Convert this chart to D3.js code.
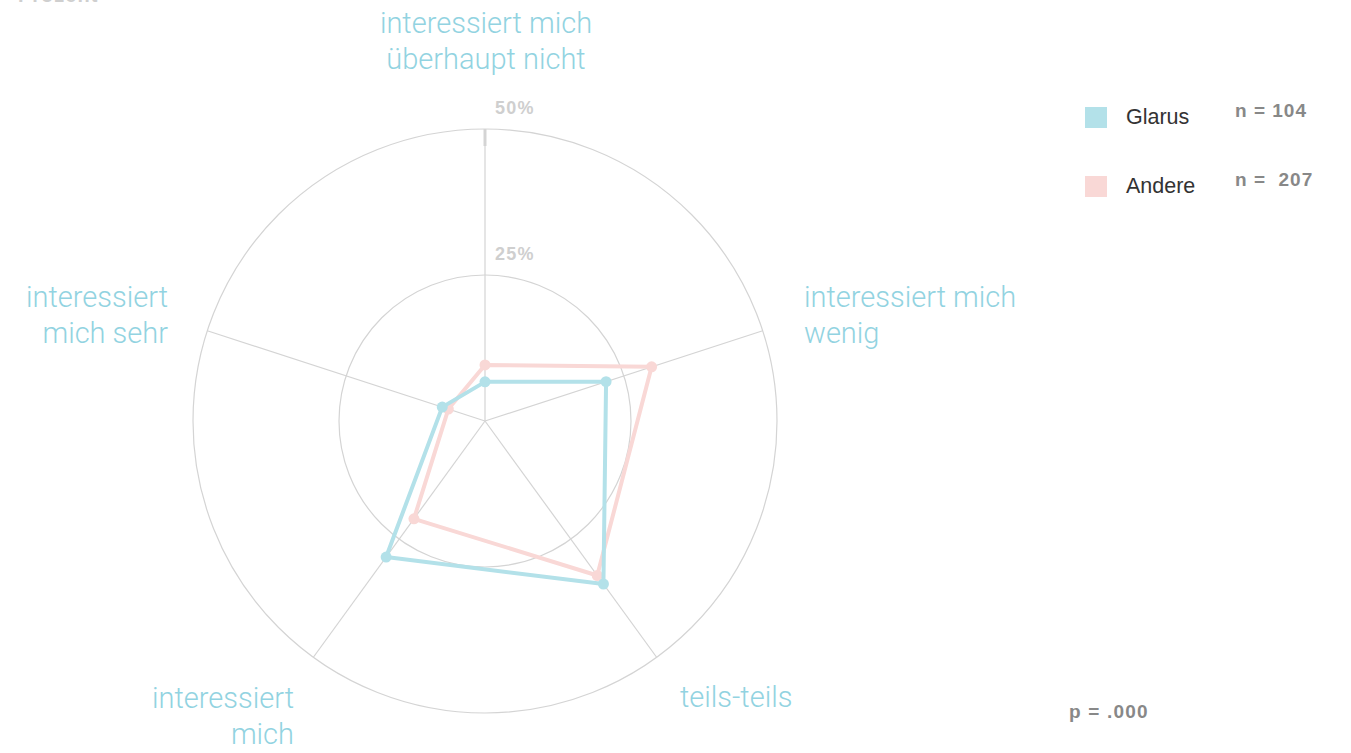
<!DOCTYPE html>
<html><head><meta charset="utf-8">
<script src="https://cdn.jsdelivr.net/npm/d3@7"></script>
<style>body{margin:0;background:#fff;} svg{display:block;}</style>
</head><body>
<svg id="c" width="1351" height="753"></svg>
<script>
const categories = [
  ["interessiert mich", "überhaupt nicht"],
  ["interessiert mich", "wenig"],
  ["teils-teils"],
  ["interessiert", "mich"],
  ["interessiert", "mich sehr"]
];
const seriesNames = ["Glarus", "Andere"];
const glarus = [6.7, 21.8, 34.5, 28.8, 7.7];
const andere = [9.6, 30.0, 32.7, 20.7, 6.6];
const sampleSizes = ["n = 104", "n =  207"];
const tickValues = [25, 50];
const tickLabels = ["25%", "50%"];
const pLabel = "p = .000";
const axisTitle = "Prozent";

const colors = {Glarus: "#b3e1e9", Andere: "#f9d8d6"};
const svg = d3.select("#c");
const cx = 485, cy = 421, R = 292;
const r = d3.scaleLinear().domain([0, 50]).range([0, R]);
const ang = d3.scaleLinear().domain([0, categories.length]).range([0, 2 * Math.PI]);
const pt = (i, v) => [cx + r(v) * Math.sin(ang(i)), cy - r(v) * Math.cos(ang(i))];
const lightFont = "Roboto, 'Liberation Sans', Arial, sans-serif";
const font = "'Liberation Sans', Arial, sans-serif";

// grid circles
svg.selectAll("circle.grid").data(tickValues).join("circle")
  .attr("cx", cx).attr("cy", cy).attr("r", d => r(d))
  .attr("fill", "none").attr("stroke", "#d4d4d4").attr("stroke-width", 1.2);
// spokes
svg.selectAll("line.spoke").data(categories).join("line")
  .attr("x1", cx).attr("y1", cy)
  .attr("x2", (d, i) => pt(i, 50)[0]).attr("y2", (d, i) => pt(i, 50)[1])
  .attr("stroke", "#d4d4d4").attr("stroke-width", 1.2);
// top tick mark
svg.append("line").attr("x1", cx).attr("x2", cx)
  .attr("y1", cy - r(50)).attr("y2", cy - r(50) + 17)
  .attr("stroke", "#d4d4d4").attr("stroke-width", 3);
// tick labels
svg.selectAll("text.tick").data(tickValues).join("text")
  .attr("x", cx + 10).attr("y", d => cy - r(d) - 15)
  .attr("font-family", font).attr("font-weight", "bold").attr("font-size", 18)
  .attr("letter-spacing", 1.2)
  .attr("fill", "#cfcfcf").text((d, i) => tickLabels[i]);

// series
const line = d3.line().curve(d3.curveLinearClosed);
[["Andere", andere], ["Glarus", glarus]].forEach(([name, vals]) => {
  const pts = vals.map((v, i) => pt(i, v));
  svg.append("path").attr("d", line(pts)).attr("fill", "none")
    .attr("stroke", colors[name]).attr("stroke-width", 4).attr("stroke-linejoin", "round");
  svg.selectAll(null).data(pts).join("circle")
    .attr("cx", d => d[0]).attr("cy", d => d[1]).attr("r", 5.5).attr("fill", colors[name]);
});

// category labels
const labelPos = [
  {x: 486, y: 33, anchor: "middle"},
  {x: 804, y: 307, anchor: "start"},
  {x: 680, y: 707, anchor: "start"},
  {x: 294, y: 708, anchor: "end"},
  {x: 168, y: 307, anchor: "end"}
];
categories.forEach((lines, i) => {
  const t = svg.append("text").attr("x", labelPos[i].x).attr("y", labelPos[i].y)
    .attr("text-anchor", labelPos[i].anchor).attr("font-family", lightFont)
    .attr("font-weight", 300).attr("font-size", 29).attr("fill", "#92d3e1");
  lines.forEach((l, j) => t.append("tspan").attr("x", labelPos[i].x).attr("dy", j ? 36 : 0).text(l));
});

// axis title (cut off at top, as in the reference)
svg.append("text").attr("x", 18).attr("y", 2).attr("font-family", font)
  .attr("font-weight", "bold").attr("font-size", 20).attr("letter-spacing", 1)
  .attr("fill", "#cfcfcf").text(axisTitle);

// legend
seriesNames.forEach((name, i) => {
  const y = 107 + i * 69;
  svg.append("rect").attr("x", 1085).attr("y", y).attr("width", 22).attr("height", 21).attr("fill", colors[name]);
  svg.append("text").attr("x", 1126).attr("y", y + 17).attr("font-family", font)
    .attr("font-size", 21.5).attr("fill", "#333").text(name);
  svg.append("text").attr("x", 1235).attr("y", y + 10).attr("font-family", font)
    .attr("font-weight", "bold").attr("font-size", 19).attr("letter-spacing", 1)
    .attr("fill", "#888").style("white-space", "pre")
    .text(sampleSizes[i]);
});
svg.append("text").attr("x", 1069).attr("y", 718).attr("font-family", font)
  .attr("font-weight", "bold").attr("font-size", 19).attr("letter-spacing", 1.2)
  .attr("fill", "#888").text(pLabel);
</script>
</body></html>
